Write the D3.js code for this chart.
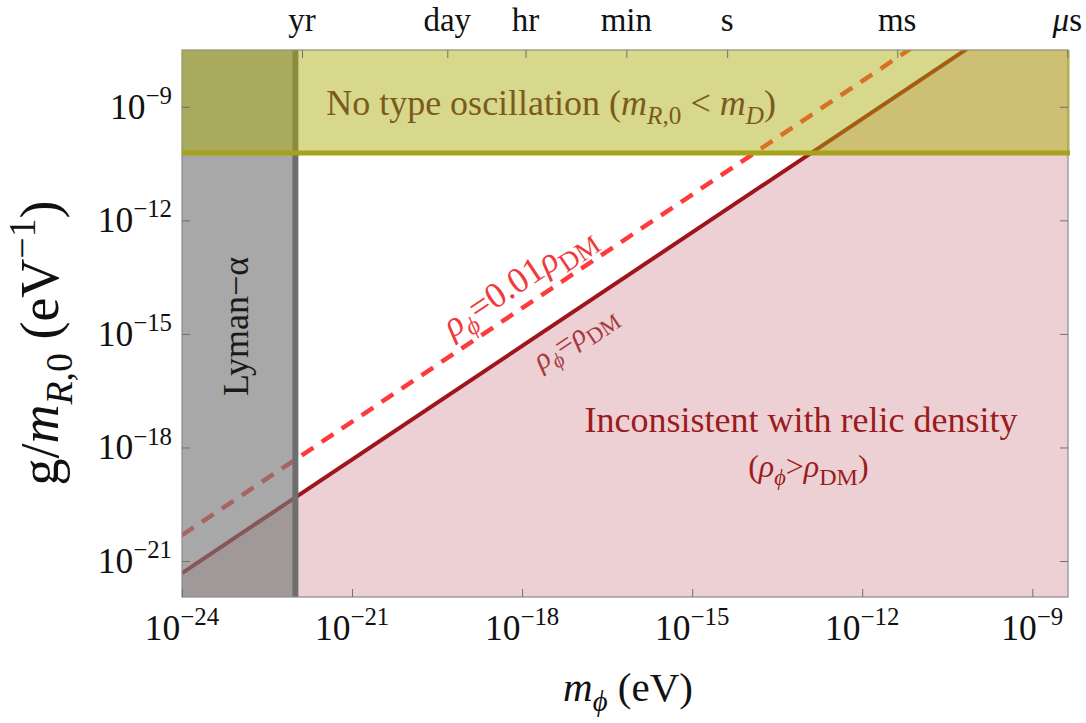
<!DOCTYPE html>
<html>
<head>
<meta charset="utf-8">
<script src="https://cdn.jsdelivr.net/npm/d3@7"></script>
<style>
  html, body { margin: 0; padding: 0; background: #ffffff; }
  svg { display: block; }
  text { font-family: "Liberation Serif", "DejaVu Serif", serif; }
</style>
</head>
<body>
<svg id="chart" width="1086" height="723"></svg>
<script>
// ---------------- data ----------------
const xTickVals = [1e-24, 1e-21, 1e-18, 1e-15, 1e-12, 1e-9];
const xTickExp  = ["\u221224", "\u221221", "\u221218", "\u221215", "\u221212", "\u22129"];
const yTickVals = [1e-21, 1e-18, 1e-15, 1e-12, 1e-9];
const yTickExp  = ["\u221221", "\u221218", "\u221215", "\u221212", "\u22129"];
const timeLabels = ["yr", "day", "hr", "min", "s", "ms", "\u03BCs"];
const timeMass   = [1.31e-22, 4.79e-20, 1.15e-18, 6.89e-17, 4.14e-15, 4.14e-12, 4.14e-9];
const lineMass   = [1e-24, 1e-8];
const relicDM    = [4.8e-22, 4.8e-6];   // rho_phi = rho_DM
const relic001   = [4.8e-21, 4.8e-5];   // rho_phi = 0.01 rho_DM
const lymanAlphaMax = 1e-22;
const noOscMin = 6e-11;
const xDomain = [1e-24, Math.pow(10, -8.37)];
const yDomain = [Math.pow(10, -21.95), Math.pow(10, -7.5)];

// ---------------- layout ----------------
const svg = d3.select("#chart");
const L = 182, R = 1068, T = 50, B = 597;
const x = d3.scaleLog().domain(xDomain).range([L, R]);
const y = d3.scaleLog().domain(yDomain).range([B, T]);

svg.append("defs").append("clipPath").attr("id", "plotclip")
  .append("rect").attr("x", L).attr("y", T).attr("width", R - L).attr("height", B - T);

const plot = svg.append("g").attr("clip-path", "url(#plotclip)");

// pink region (inconsistent with relic density)
const pinkPts = [[lineMass[0], yDomain[0] / 10], [lineMass[0], relicDM[0]], [lineMass[1], relicDM[1]], [lineMass[1], yDomain[0] / 10]];
plot.append("path")
  .attr("d", d3.line().x(d => x(d[0])).y(d => y(d[1]))(pinkPts) + "Z")
  .attr("fill", "#ecd0d3");

// relic lines
const lineGen = d3.line().x(d => x(d[0])).y(d => y(d[1]));
plot.append("path")
  .attr("d", lineGen(lineMass.map((m, i) => [m, relic001[i]])))
  .attr("fill", "none").attr("stroke", "#ff3a3a").attr("stroke-width", 4.5)
  .attr("stroke-dasharray", "14,10");
plot.append("path")
  .attr("d", lineGen(lineMass.map((m, i) => [m, relicDM[i]])))
  .attr("fill", "none").attr("stroke", "#a0141c").attr("stroke-width", 4);

// frame
svg.append("rect").attr("x", L).attr("y", T).attr("width", R - L).attr("height", B - T)
  .attr("fill", "none").attr("stroke", "#8a8a8a").attr("stroke-width", 1.2);

// Lyman-alpha excluded region
plot.append("rect")
  .attr("x", x(xDomain[0])).attr("y", T)
  .attr("width", x(lymanAlphaMax) - x(xDomain[0])).attr("height", B - T)
  .attr("fill", "#7a7a7a").attr("fill-opacity", 0.65);
plot.append("line")
  .attr("x1", x(lymanAlphaMax)).attr("x2", x(lymanAlphaMax))
  .attr("y1", T).attr("y2", B)
  .attr("stroke", "#6e6e6e").attr("stroke-width", 6);

// no-oscillation region
svg.append("rect")
  .attr("x", L).attr("y", T)
  .attr("width", R - L + 2).attr("height", y(noOscMin) - T)
  .attr("fill", "rgb(172,174,13)").attr("fill-opacity", 0.48);
svg.append("line")
  .attr("x1", L).attr("x2", R + 2)
  .attr("y1", y(noOscMin)).attr("y2", y(noOscMin))
  .attr("stroke", "#a6a21a").attr("stroke-width", 5);

// ---------------- axes (ticks) ----------------
const tickStyle = g => {
  g.select(".domain").remove();
  g.selectAll(".tick line").attr("stroke", "#707070").attr("stroke-width", 1);
  g.selectAll(".tick text").remove();
};
svg.append("g").attr("transform", `translate(0,${B})`)
  .call(d3.axisBottom(x).tickValues(xTickVals).tickSize(-8).tickFormat(""))
  .call(tickStyle);
svg.append("g").attr("transform", `translate(0,${T})`)
  .call(d3.axisTop(x).tickValues(timeMass).tickSize(-8).tickFormat(""))
  .call(tickStyle);
svg.append("g").attr("transform", `translate(${L},0)`)
  .call(d3.axisLeft(y).tickValues(yTickVals).tickSize(-8).tickFormat(""))
  .call(tickStyle);
svg.append("g").attr("transform", `translate(${R},0)`)
  .call(d3.axisRight(y).tickValues(yTickVals).tickSize(-8).tickFormat(""))
  .call(tickStyle);

// rich text helper
function rich(sel, segs, fs) {
  let cur = 0;
  segs.forEach(s => {
    const target = s.sub ? 0.25 * fs : (s.sup ? -0.42 * fs : 0);
    const ts = sel.append("tspan").text(s.t).attr("dy", target - cur);
    cur = target;
    if (s.sub || s.sup) ts.attr("font-size", fs * (s.scale || 0.7));
    if (s.it) ts.attr("font-style", "italic");
  });
  return sel;
}

const tickFs = 35.5;
const topFs = 33;
// bottom tick labels
xTickVals.forEach((v, i) => {
  const t = svg.append("text").attr("x", x(v)).attr("y", 640)
    .attr("text-anchor", "middle").attr("font-size", tickFs).attr("fill", "#111");
  rich(t, [{ t: "10" }, { t: xTickExp[i], sup: true }], tickFs);
});
// left tick labels
yTickVals.forEach((v, i) => {
  const t = svg.append("text").attr("x", 172).attr("y", y(v) + 12)
    .attr("text-anchor", "end").attr("font-size", tickFs).attr("fill", "#111");
  rich(t, [{ t: "10" }, { t: yTickExp[i], sup: true }], tickFs);
});
// top time labels
timeLabels.forEach((lab, i) => {
  const t = svg.append("text").attr("x", x(timeMass[i])).attr("y", 31)
    .attr("text-anchor", "middle").attr("font-size", topFs).attr("fill", "#111");
  if (lab.startsWith("\u03BC")) {
    rich(t, [{ t: "\u03BC", it: true }, { t: "s" }], topFs);
  } else t.text(lab);
});

// axis titles
const xt = svg.append("text").attr("x", 628).attr("y", 701)
  .attr("text-anchor", "middle").attr("font-size", 41).attr("fill", "#111");
rich(xt, [{ t: "m", it: true }, { t: "\u03D5", sub: true, it: true }, { t: " (eV)" }], 41);

const yt = svg.append("text")
  .attr("transform", `translate(58,343) rotate(-90)`)
  .attr("text-anchor", "middle").attr("font-size", 54).attr("fill", "#111");
rich(yt, [{ t: "g/" }, { t: "m", it: true }, { t: "R", sub: true, it: true }, { t: ",0", sub: true },
          { t: " (eV" }, { t: "\u22121", sup: true }, { t: ")" }], 54);

// ---------------- annotations ----------------
const labelFs = 36;
const nt = svg.append("text").attr("x", x(Math.pow(10, -17.49))).attr("y", y(Math.pow(10, -9.21)))
  .attr("text-anchor", "middle").attr("font-size", labelFs).attr("fill", "#7b5a1e");
rich(nt, [{ t: "No type oscillation (" }, { t: "m", it: true }, { t: "R", sub: true, it: true },
          { t: ",0", sub: true }, { t: " < " }, { t: "m", it: true }, { t: "D", sub: true, it: true }, { t: ")" }], labelFs);

svg.append("text")
  .attr("transform", `translate(${x(Math.pow(10, -23.05)) + 12},${y(Math.pow(10, -14.8))}) rotate(-90)`)
  .attr("text-anchor", "middle").attr("font-size", labelFs).attr("fill", "#1a1a1a")
  .text("Lyman\u2212\u03B1");

svg.append("text").attr("x", x(Math.pow(10, -13.08))).attr("y", y(Math.pow(10, -17.59)))
  .attr("text-anchor", "middle").attr("font-size", labelFs).attr("fill", "#9b1b1e")
  .text("Inconsistent with relic density");
const it2 = svg.append("text").attr("x", x(Math.pow(10, -12.95))).attr("y", y(Math.pow(10, -18.78)))
  .attr("text-anchor", "middle").attr("font-size", 32).attr("fill", "#9b1b1e");
rich(it2, [{ t: "(" }, { t: "\u03C1", it: true }, { t: "\u03D5", sub: true, it: true }, { t: ">" },
           { t: "\u03C1", it: true }, { t: "DM", sub: true, scale: 0.75 }, { t: ")" }], 32);

// rotated line labels
const ang = Math.atan2(y(relicDM[1]) - y(relicDM[0]), x(lineMass[1]) - x(lineMass[0])) * 180 / Math.PI;
const d1 = svg.append("text")
  .attr("transform", `translate(${x(Math.pow(10, -17.95))},${y(Math.pow(10, -13.84))}) rotate(${ang})`)
  .attr("text-anchor", "middle").attr("dy", "0.35em").attr("font-size", 36).attr("fill", "#f03a3c");
rich(d1, [{ t: "\u03C1", it: true }, { t: "\u03D5", sub: true, it: true }, { t: "=0.01" },
          { t: "\u03C1", it: true }, { t: "DM", sub: true, scale: 0.75 }], 36);
const d2 = svg.append("text")
  .attr("transform", `translate(${x(Math.pow(10, -16.98))},${y(Math.pow(10, -15.29))}) rotate(${ang})`)
  .attr("text-anchor", "middle").attr("dy", "0.35em").attr("font-size", 30).attr("fill", "#a8383f");
rich(d2, [{ t: "\u03C1", it: true }, { t: "\u03D5", sub: true, it: true }, { t: "=" },
          { t: "\u03C1", it: true }, { t: "DM", sub: true, scale: 0.75 }], 30);
</script>
</body>
</html>
